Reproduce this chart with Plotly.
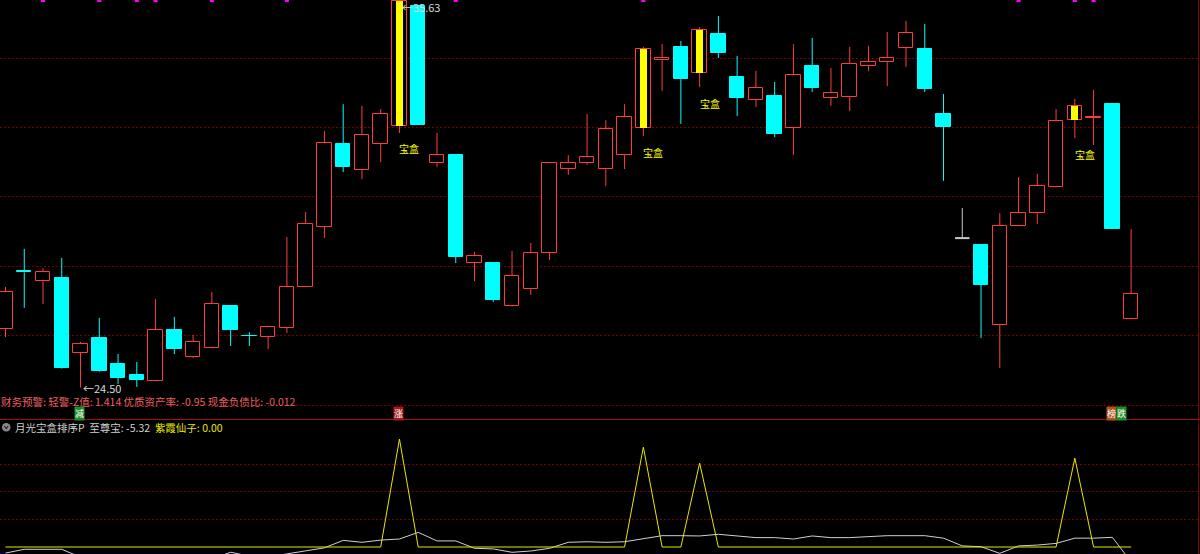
import plotly.graph_objects as go

W, H = 1200, 554

# ---------------- data ----------------
idx = list(range(1, 62))
open_ = [26.19, 27.85, 27.57, 27.66, 25.50, 25.93, 25.18, 24.86, 24.69, 26.16,
         25.38, 25.64, 26.85, 26.00, 25.96, 26.22, 27.40, 29.13, 31.52, 30.77,
         31.52, 32.04, 35.50, 30.97, 31.20, 28.09, 28.09, 26.85, 27.34, 28.38,
         30.80, 30.97, 30.80, 31.20, 31.98, 33.94, 34.32, 33.57, 34.69, 33.45,
         32.79, 32.91, 31.98, 33.77, 32.85, 32.88, 33.77, 33.88, 34.29, 34.26,
         32.39, 28.81, 28.61, 26.31, 29.16, 29.53, 30.28, 32.21, 32.28, 32.67,
         26.48]
high = [27.40, 28.50, 27.95, 28.24, 25.82, 26.51, 25.47, 25.24, 27.05, 26.54,
        26.02, 27.26, 26.86, 26.10, 26.26, 28.84, 29.56, 31.90, 32.67, 32.62,
        32.53, 35.63, 35.50, 31.84, 31.21, 28.41, 28.10, 28.44, 28.67, 30.98,
        31.20, 32.39, 32.21, 32.67, 34.32, 34.40, 34.49, 34.89, 35.21, 34.06,
        33.63, 33.31, 34.40, 34.58, 33.71, 34.32, 34.35, 34.75, 35.07, 34.98,
        32.96, 29.68, 28.62, 29.53, 30.57, 30.66, 32.53, 32.82, 33.08, 32.67,
        29.07]
low = [25.96, 26.80, 26.91, 25.05, 24.50, 24.96, 24.61, 24.52, 24.68, 25.47,
       25.35, 25.63, 25.70, 25.70, 25.61, 26.08, 27.39, 28.81, 30.71, 30.51,
       31.00, 31.84, 32.07, 30.86, 28.09, 27.57, 26.97, 26.84, 27.17, 28.18,
       30.63, 30.92, 30.31, 30.80, 31.75, 33.05, 32.10, 33.16, 34.00, 32.33,
       32.59, 31.72, 31.20, 33.02, 32.62, 32.47, 33.63, 33.19, 33.74, 33.02,
       30.46, 28.81, 25.93, 25.07, 29.15, 29.22, 30.27, 31.69, 31.49, 29.08,
       26.47]
close = [27.26, 27.82, 27.83, 25.07, 25.76, 24.98, 24.78, 24.72, 26.16, 25.61,
         25.82, 26.91, 26.16, 25.98, 26.25, 27.40, 29.22, 31.55, 30.86, 31.78,
         32.39, 35.63, 32.07, 31.20, 28.27, 28.29, 27.03, 27.72, 28.38, 30.97,
         30.97, 31.15, 31.95, 32.30, 34.26, 34.00, 33.39, 34.81, 34.14, 32.85,
         33.14, 31.81, 33.51, 33.14, 32.99, 33.83, 33.88, 34.00, 34.72, 33.11,
         32.01, 28.81, 27.46, 29.16, 29.53, 30.31, 32.18, 32.62, 32.31, 29.08,
         27.20]

# 宝盒 signal days (yellow inner bars + label)
baohe_days = [22, 35, 38, 58]
# magenta top marks
mark_days = [3, 6, 8, 9, 12, 16, 25, 35, 55, 58, 59]

# indicator panel
zhizunbao = [-2.2, -0.83, -0.83, -0.83, -3.7, -4.6, -5.1, -5.3, -4.9, -4.7,
             -4.8, -4.4, -1.9, -3.3, -3.6, -2.6, -1.4, -0.3, 2.4, 1.7,
             2.5, 2.9, 5.3, 2.2, 2.2, -0.47, -0.7, -1.92, -1.45, -0.47,
             1.7, 1.9, 1.7, 1.9, 2.9, 4.1, 4.1, 4.0, 4.6, 4.0,
             3.4, 3.4, 2.9, 4.0, 3.4, 3.4, 3.8, 4.1, 4.1, 4.1,
             3.2, 0.4, 0.1, -2.3, 0.4, 0.7, 1.3, 3.2, 3.2, 3.5,
             -5.32]
zixia = [0.0] * 61
for d, v in [(22, 39.1), (35, 36.2), (38, 30.4), (58, 32.2)]:
    zixia[d - 1] = v

# text labels
fin_warning = "财务预警: 轻警-Z值: 1.414 优质资产率: -0.95 现金负债比: -0.012"
tags = [(5, "减", "#1f8f2a"), (22, "涨", "#a3191c"), (60, "榜", "#b0561c"), (61, "跌", "#1f8f2a")]

# ---------------- styles ----------------
RED = "#ff3c3c"
CYAN = "#00ffff"
GRAY = "#c8c8c8"
YEL = "#ffff00"
BG = "#000000"
GRID = "#7a0000"
FONT = "Noto Sans CJK SC"

main_range = [23.597, 35.6715]
sub_range = [-2.536, 46.01]
x_range = [0.7068, 64.672]
body_w = 0.77

def py(ypix):
    return 1 - ypix / H

def px(xpix):
    return xpix / W

fig = go.Figure()

up = [i for i in range(61) if close[i] > open_[i]]
dn = [i for i in range(61) if close[i] < open_[i]]
flat = [i for i in range(61) if close[i] == open_[i]]

def wick_xy(ids):
    xs, ys = [], []
    for i in ids:
        top = max(open_[i], close[i])
        bot = min(open_[i], close[i])
        if high[i] > top:
            xs += [idx[i], idx[i], None]
            ys += [top, high[i], None]
        if low[i] < bot:
            xs += [idx[i], idx[i], None]
            ys += [bot, low[i], None]
    return xs, ys

# bodies
fig.add_trace(go.Bar(x=[idx[i] for i in up], y=[close[i] - open_[i] for i in up],
                     base=[open_[i] for i in up], width=body_w,
                     marker=dict(color=BG, line=dict(color=RED, width=1)),
                     xaxis="x", yaxis="y", hoverinfo="skip"))
fig.add_trace(go.Bar(x=[idx[i] for i in dn], y=[close[i] - open_[i] for i in dn],
                     base=[open_[i] for i in dn], width=body_w,
                     marker=dict(color=CYAN, line=dict(color=CYAN, width=1)),
                     xaxis="x", yaxis="y", hoverinfo="skip"))
bh = [d - 1 for d in baohe_days]
fig.add_trace(go.Bar(x=[idx[i] for i in bh], y=[close[i] - open_[i] for i in bh],
                     base=[open_[i] for i in bh], width=0.36,
                     marker=dict(color=YEL, line=dict(width=0)),
                     xaxis="x", yaxis="y", hoverinfo="skip"))

# wicks
for ids, col in [(up, RED), (dn, CYAN), (flat, GRAY)]:
    xs, ys = wick_xy(ids)
    fig.add_trace(go.Scatter(x=xs, y=ys, mode="lines", line=dict(color=col, width=1),
                             xaxis="x", yaxis="y", hoverinfo="skip"))
# flat (one-price) candles: horizontal bar
fx, fy = [], []
for i in flat:
    fx += [idx[i] - body_w / 2, idx[i] + body_w / 2, None]
    fy += [close[i], close[i], None]
fig.add_trace(go.Scatter(x=fx, y=fy, mode="lines", line=dict(color=GRAY, width=2),
                         xaxis="x", yaxis="y", hoverinfo="skip"))

# magenta marks at top
fig.add_trace(go.Scatter(x=mark_days, y=[main_range[1]] * len(mark_days), mode="markers",
                         marker=dict(symbol="square", size=4, color="#ff00ff"),
                         xaxis="x", yaxis="y", hoverinfo="skip", cliponaxis=True))

# indicator lines
fig.add_trace(go.Scatter(x=idx, y=zhizunbao, mode="lines", line=dict(color="#d0d0d0", width=1),
                         xaxis="x2", yaxis="y2", hoverinfo="skip"))
fig.add_trace(go.Scatter(x=idx, y=zixia, mode="lines", line=dict(color="#e8e800", width=1),
                         xaxis="x2", yaxis="y2", hoverinfo="skip"))

ann = []
# extreme price labels
imax = max(range(61), key=lambda i: high[i])
imin = min(range(61), key=lambda i: low[i])
ann.append(dict(x=idx[imax], y=high[imax], xref="x", yref="y", text=f"←{high[imax]:.2f}",
                showarrow=False, xanchor="left", yanchor="middle", xshift=1, yshift=-6,
                font=dict(family=FONT, size=11, color="#d8d8d8")))
ann.append(dict(x=idx[imin], y=low[imin], xref="x", yref="y", text=f"←{low[imin]:.2f}",
                showarrow=False, xanchor="left", yanchor="middle", xshift=0,
                font=dict(family=FONT, size=11, color="#d8d8d8")))
# 宝盒 labels
for d in baohe_days:
    ann.append(dict(x=d, y=low[d - 1], xref="x", yref="y", text="宝盒", showarrow=False,
                    xanchor="center", yanchor="middle", xshift=10, yshift=-16,
                    font=dict(family=FONT, size=10, color="#ffff00")))
# financial warning text
ann.append(dict(x=0, y=py(401.5), xref="paper", yref="paper", text=fin_warning, showarrow=False,
                xanchor="left", yanchor="middle", xshift=-1,
                font=dict(family=FONT, size=10.5, color="#e86060")))
# tags
for d, t, c in tags:
    ann.append(dict(x=d, y=py(413), xref="x", yref="paper", text=t, showarrow=False,
                    xanchor="center", yanchor="middle", bgcolor=c, borderpad=0,
                    xshift=(-1 if d != 61 else -9.5),
                    font=dict(family=FONT, size=9, color="#ffffff")))
# indicator header
ann.append(dict(x=px(13), y=py(427), xref="paper", yref="paper", showarrow=False,
                xanchor="left", yanchor="middle",
                text=(f"月光宝盒排序P  至尊宝: {zhizunbao[-1]:.2f}  "
                      f"<span style='color:#e8e800'>紫霞仙子: {zixia[-1]:.2f}</span>"),
                font=dict(family=FONT, size=10.5, color="#d0d0d0")))

shapes = [
    # separator
    dict(type="line", xref="paper", yref="paper", x0=0, x1=1, y0=py(419.5), y1=py(419.5),
         line=dict(color="#a01010", width=1)),
    # right border
    dict(type="line", xref="paper", yref="paper", x0=px(1198.5), x1=px(1198.5), y0=py(0), y1=py(554),
         line=dict(color="#800000", width=1)),
    # header icon
    dict(type="circle", xref="paper", yref="paper", x0=px(2), x1=px(10.5), y0=py(431.5), y1=py(423),
         fillcolor="#8a8a8a", line=dict(width=0)),
    dict(type="path", xref="paper", yref="paper",
         path=f"M {px(4.3)} {py(426)} L {px(6.25)} {py(428.5)} L {px(8.2)} {py(426)}",
         line=dict(color="#202020", width=1.2)),
]

axis_common = dict(showticklabels=False, zeroline=False, showline=False, ticks="")
fig.update_layout(
    width=W, height=H,
    margin=dict(l=0, r=0, t=0, b=0),
    paper_bgcolor=BG, plot_bgcolor=BG,
    showlegend=False, barmode="overlay", bargap=0,
    xaxis=dict(domain=[0, 1], range=x_range, anchor="y", showgrid=False, **axis_common),
    yaxis=dict(domain=[py(419), 1], range=main_range, anchor="x",
               tickvals=[24, 26, 28, 30, 32, 34], showgrid=True, gridcolor=GRID,
               griddash="2px,2px", gridwidth=1, **axis_common),
    xaxis2=dict(domain=[0, 1], range=x_range, anchor="y2", matches="x", showgrid=False, **axis_common),
    yaxis2=dict(domain=[0, py(420)], range=sub_range, anchor="x2",
                tickvals=[10, 20, 30], showgrid=True, gridcolor=GRID,
                griddash="2px,2px", gridwidth=1, **axis_common),
    annotations=ann, shapes=shapes,
)

fig.write_html(
    "out.html",
    config={"displayModeBar": False},
    post_script="document.body.style.margin='0';document.body.style.overflow='hidden';document.body.style.background='#000';",
)
